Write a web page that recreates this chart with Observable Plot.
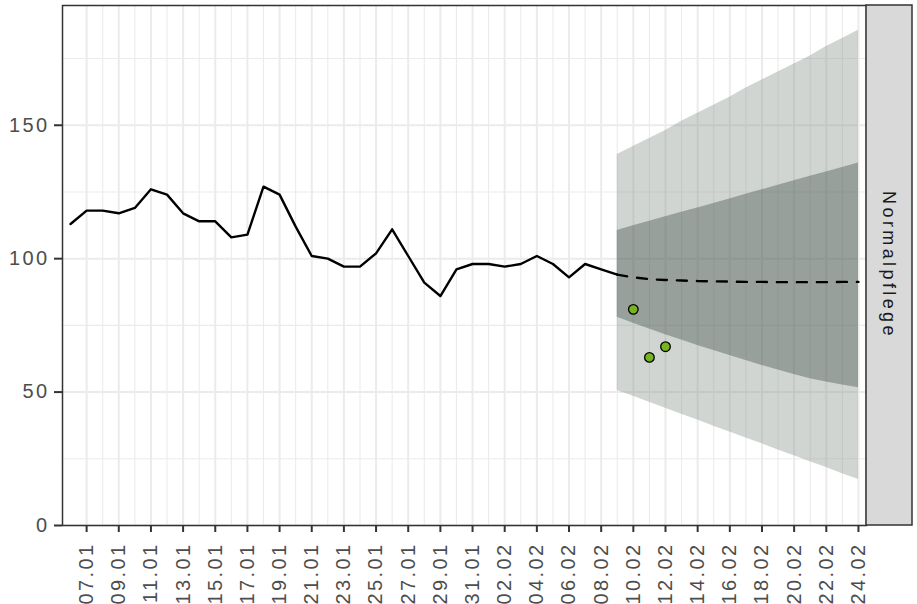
<!DOCTYPE html>
<html><head><meta charset="utf-8">
<script src="https://cdn.jsdelivr.net/npm/d3@7"></script>
<script src="https://cdn.jsdelivr.net/npm/@observablehq/plot@0.6"></script>
<style>
body{margin:0;background:#fff;}
#chart svg text{font-family:"Liberation Sans",Arial,sans-serif;font-size:20px;letter-spacing:2.4px;}
#chart svg .strip-label{font-family:"Liberation Sans",Arial,sans-serif;font-size:18px;letter-spacing:3.4px;}
</style></head><body><div id="chart"></div>
<script>
// ---- data ----
const actualDays = ["06.01","07.01","08.01","09.01","10.01","11.01","12.01","13.01","14.01","15.01","16.01","17.01","18.01","19.01","20.01","21.01","22.01","23.01","24.01","25.01","26.01","27.01","28.01","29.01","30.01","31.01","01.02","02.02","03.02","04.02","05.02","06.02","07.02","08.02","09.02"];
const actualValues = [113,118,118,117,119,126,124,117,114,114,108,109,127,124,112,101,100,97,97,102,111,101,91,86,96,98,98,97,98,101,98,93,98,96,94];

const forecastDays = ["09.02","10.02","11.02","12.02","13.02","14.02","15.02","16.02","17.02","18.02","19.02","20.02","21.02","22.02","23.02","24.02"];
const forecastMedian = [94,93,92.3,92,91.8,91.6,91.5,91.4,91.3,91.3,91.2,91.2,91.2,91.2,91.3,91.3];
const inner80Low  = [78,75.8,73.6,71.5,69.5,67.5,65.6,63.7,61.8,60,58.3,56.6,55,53.8,52.7,51.6];
const inner80High = [110.6,112.3,114,115.7,117.4,119,120.7,122.4,124.1,125.8,127.5,129.2,130.9,132.5,134.2,135.9];
const outer95Low  = [50.6,48.4,46.2,43.9,41.7,39.5,37.2,35,32.8,30.6,28.3,26.1,23.9,21.7,19.4,17.2];
const outer95High = [139,142,145,148,151.5,154.5,157.5,160.5,164,167,170,173,176,179.5,182.5,185.6];

const observedDays = ["10.02","11.02","12.02"];
const observedValues = [81,63,67];

const xTickLabels = ["07.01","09.01","11.01","13.01","15.01","17.01","19.01","21.01","23.01","25.01","27.01","29.01","31.01","02.02","04.02","06.02","08.02","10.02","12.02","14.02","16.02","18.02","20.02","22.02","24.02"];
const yTicks = [0,50,100,150];
const yMinor = [25,75,125,175];
const facetLabel = "Normalpflege";

// ---- build tables ----
const YEAR = 2022;
const parseDay = s => { const [d, m] = s.split(".").map(Number); return new Date(Date.UTC(YEAR, m - 1, d)); };
const actual = actualDays.map((d, i) => ({date: parseDay(d), value: actualValues[i]}));
const forecast = forecastDays.map((d, i) => ({
  date: parseDay(d), median: forecastMedian[i],
  lo80: inner80Low[i], hi80: inner80High[i], lo95: outer95Low[i], hi95: outer95High[i]
}));
const observed = observedDays.map((d, i) => ({date: parseDay(d), value: observedValues[i]}));
const tickDates = xTickLabels.map(parseDay);
const minorDates = tickDates.slice(1).map((d, i) => new Date((+d + +tickDates[i]) / 2));
const halfDay = 12 * 3600 * 1000;
const xDomain = [new Date(+parseDay(actualDays[0]) - halfDay), new Date(+parseDay(forecastDays[forecastDays.length - 1]) + halfDay)];
const yMax = d3.max(outer95High) * 1.05;

const chart = Plot.plot({
  width: 917, height: 604,
  marginLeft: 62, marginRight: 51, marginTop: 5, marginBottom: 79,
  x: {type: "utc", domain: xDomain, label: null},
  y: {domain: [0, yMax], label: null},
  style: {fontFamily: "Liberation Sans", fontSize: "20px", color: "#4d4d4d", background: "#fff", overflow: "visible"},
  marks: [
    Plot.ruleX(minorDates, {stroke: "#ebebeb", strokeWidth: 1.1}),
    Plot.ruleX(tickDates, {stroke: "#ebebeb", strokeWidth: 2}),
    Plot.ruleY(yMinor, {stroke: "#ebebeb", strokeWidth: 1.1}),
    Plot.ruleY(yTicks, {stroke: "#ebebeb", strokeWidth: 2}),
    Plot.areaY(forecast, {x: "date", y1: "lo95", y2: "hi95", fill: "rgb(138,150,142)", fillOpacity: 0.4}),
    Plot.areaY(forecast, {x: "date", y1: "lo80", y2: "hi80", fill: "rgb(68,80,72)", fillOpacity: 0.4}),
    Plot.line(actual, {x: "date", y: "value", stroke: "#000", strokeWidth: 2.4}),
    Plot.line(forecast, {x: "date", y: "median", stroke: "#000", strokeWidth: 2.4, strokeDasharray: "10,10"}),
    Plot.dot(observed, {x: "date", y: "value", r: 4.8, fill: "#78b41e", stroke: "#000", strokeWidth: 1.3}),
    Plot.frame({stroke: "#333", strokeWidth: 1.5}),
    Plot.axisY(yTicks, {tickSize: 8, tickPadding: 5, stroke: "#333", strokeWidth: 2, fill: "#4d4d4d", fontSize: 20, label: null}),
    Plot.axisX(tickDates, {tickSize: 7, tickPadding: 10, tickRotate: -90, tickFormat: d3.utcFormat("%d.%m"), stroke: "#333", strokeWidth: 2, fill: "#4d4d4d", fontSize: 20, label: null})
  ]
});

document.getElementById("chart").appendChild(chart);

// facet strip on the right, placed from the plot's own scale ranges
const xr = chart.scale("x").range, yr = chart.scale("y").range;
const svg = d3.select(chart);
const stripX = xr[1], stripW = 917 - xr[1] - 5;
const panelTop = Math.min(...yr), panelBottom = Math.max(...yr);
svg.append("rect").attr("x", stripX).attr("y", panelTop).attr("width", stripW).attr("height", panelBottom - panelTop)
  .attr("fill", "#d9d9d9").attr("stroke", "#333").attr("stroke-width", 1.5);
svg.append("text").attr("class", "strip-label")
  .attr("transform", `translate(${stripX + stripW / 2},${(panelTop + panelBottom) / 2}) rotate(90)`)
  .attr("text-anchor", "middle").attr("dominant-baseline", "central")
  .attr("fill", "#1a1a1a").text(facetLabel);
</script></body></html>
